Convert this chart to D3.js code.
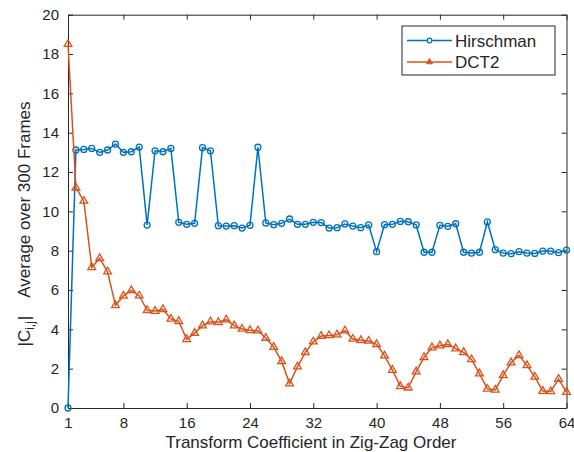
<!DOCTYPE html>
<html>
<head>
<meta charset="utf-8">
<script src="https://cdn.jsdelivr.net/npm/d3@7"></script>
<style>
  body { margin: 0; background: #fff; }
  text { font-family: "Liberation Sans", Arial, sans-serif; fill: #262626; }
</style>
</head>
<body>
<div id="plot"></div>
<script>
// values, coefficient index 1..64
const coeffs = d3.range(1, 65);
const hirschman = [0, 13.12, 13.15, 13.2, 13.0, 13.12, 13.42, 13.0, 13.03, 13.27,
  9.3, 13.08, 13.03, 13.2, 9.44, 9.34, 9.39, 13.24, 13.08, 9.27,
  9.25, 9.27, 9.15, 9.29, 13.26, 9.41, 9.32, 9.39, 9.61, 9.34,
  9.34, 9.44, 9.43, 9.15, 9.17, 9.36, 9.25, 9.17, 9.31, 7.95,
  9.32, 9.34, 9.49, 9.47, 9.31, 7.92, 7.92, 9.29, 9.24, 9.37,
  7.92, 7.88, 7.92, 9.46, 8.05, 7.88, 7.85, 7.95, 7.88, 7.86,
  7.98, 7.98, 7.9, 8.03];
const dct2 = [18.5, 11.2, 10.53, 7.15, 7.61, 6.93, 5.22, 5.7, 5.98, 5.71,
  4.97, 4.93, 5.02, 4.53, 4.41, 3.49, 3.81, 4.19, 4.39, 4.36,
  4.49, 4.19, 4.02, 3.95, 3.93, 3.56, 3.1, 2.37, 1.24, 2.1,
  2.83, 3.37, 3.66, 3.69, 3.73, 3.93, 3.51, 3.44, 3.41, 3.24,
  2.66, 1.93, 1.1, 1.03, 1.85, 2.58, 3.07, 3.17, 3.24, 3.02,
  2.83, 2.47, 1.75, 0.97, 0.92, 1.66, 2.31, 2.68, 2.17, 1.58,
  0.86, 0.84, 1.47, 0.81];
const xTicks = [1, 8, 16, 24, 32, 40, 48, 56, 64];
const yTicks = [0, 2, 4, 6, 8, 10, 12, 14, 16, 18, 20];
const seriesNames = ["Hirschman", "DCT2"];

const blue = "#0072BD", orange = "#D95319", axisColor = "#262626";

const width = 574, height = 452;
const svg = d3.select("div#plot").append("svg")
    .attr("width", width)
    .attr("height", height);

const x = d3.scaleLinear().domain([1, 64]).range([68, 566.5]);
const y = d3.scaleLinear().domain([0, 20]).range([408, 14.7]);

// axes with inward ticks, box on all four sides
const tick = 5;
svg.append("g")
    .attr("transform", `translate(0,${y(0)})`)
    .call(d3.axisBottom(x).tickValues(xTicks).tickSizeInner(-tick).tickSizeOuter(0).tickPadding(9))
    .call(g => g.selectAll("text").style("font-size", "15px"));
svg.append("g")
    .attr("transform", `translate(0,${y(20)})`)
    .call(d3.axisTop(x).tickValues(xTicks).tickSizeInner(-tick).tickSizeOuter(0).tickFormat(""));
svg.append("g")
    .attr("transform", `translate(${x(1)},0)`)
    .call(d3.axisLeft(y).tickValues(yTicks).tickSizeInner(-tick).tickSizeOuter(0).tickPadding(9))
    .call(g => g.selectAll("text").style("font-size", "15px"));
svg.append("g")
    .attr("transform", `translate(${x(64)},0)`)
    .call(d3.axisRight(y).tickValues(yTicks).tickSizeInner(-tick).tickSizeOuter(0).tickFormat(""));
svg.selectAll(".domain, .tick line").attr("stroke", axisColor);
svg.selectAll(".tick text").attr("fill", axisColor);

// x label
svg.append("text")
    .attr("x", 311)
    .attr("y", 448)
    .attr("text-anchor", "middle")
    .style("font-size", "17px")
    .text("Transform Coefficient in Zig-Zag Order");

// y label with subscript
const yl = svg.append("text")
    .attr("transform", "translate(29.5,224) rotate(-90)")
    .attr("text-anchor", "middle")
    .style("font-size", "17px");
yl.append("tspan").text("|C");
yl.append("tspan").attr("dy", 4).style("font-size", "12px").text("i,j");
yl.append("tspan").attr("dy", -4).attr("dx", 1).text("|");
yl.append("tspan").attr("dx", 18).text("Average over 300 Frames");

// series
const line = d3.line().x((d, i) => x(coeffs[i])).y(d => y(d));
const tri = d3.symbol(d3.symbolTriangle, 26);

svg.append("path").datum(hirschman)
    .attr("d", line).attr("fill", "none").attr("stroke", blue).attr("stroke-width", 1.5);
svg.selectAll("circle.h").data(hirschman).enter().append("circle")
    .attr("class", "h")
    .attr("cx", (d, i) => x(coeffs[i]))
    .attr("cy", d => y(d))
    .attr("r", 3)
    .attr("fill", "none").attr("stroke", blue).attr("stroke-width", 1.3);

svg.append("path").datum(dct2)
    .attr("d", line).attr("fill", "none").attr("stroke", orange).attr("stroke-width", 1.5);
svg.selectAll("path.d").data(dct2).enter().append("path")
    .attr("class", "d")
    .attr("d", tri)
    .attr("transform", (d, i) => `translate(${x(coeffs[i])},${y(d)})`)
    .attr("fill", "none").attr("stroke", orange).attr("stroke-width", 1.3);

// legend
const lg = svg.append("g").attr("transform", "translate(402,26)");
lg.append("rect").attr("width", 153).attr("height", 49)
    .attr("fill", "#fff").attr("stroke", axisColor).attr("stroke-width", 1);
seriesNames.forEach((name, i) => {
    const cy = 14.5 + i * 21.5;
    const c = i === 0 ? blue : orange;
    lg.append("line").attr("x1", 5).attr("x2", 50).attr("y1", cy).attr("y2", cy)
        .attr("stroke", c).attr("stroke-width", 1.5);
    if (i === 0) {
        lg.append("circle").attr("cx", 27.5).attr("cy", cy).attr("r", 2.3)
            .attr("fill", "#fff").attr("stroke", c).attr("stroke-width", 1.2);
    } else {
        lg.append("path").attr("d", d3.symbol(d3.symbolTriangle, 16))
            .attr("transform", `translate(27.5,${cy})`)
            .attr("fill", c).attr("stroke", c).attr("stroke-width", 1);
    }
    lg.append("text").attr("x", 53).attr("y", cy + 6)
        .style("font-size", "17px").attr("fill", "#000").text(name);
});
</script>
</body>
</html>
